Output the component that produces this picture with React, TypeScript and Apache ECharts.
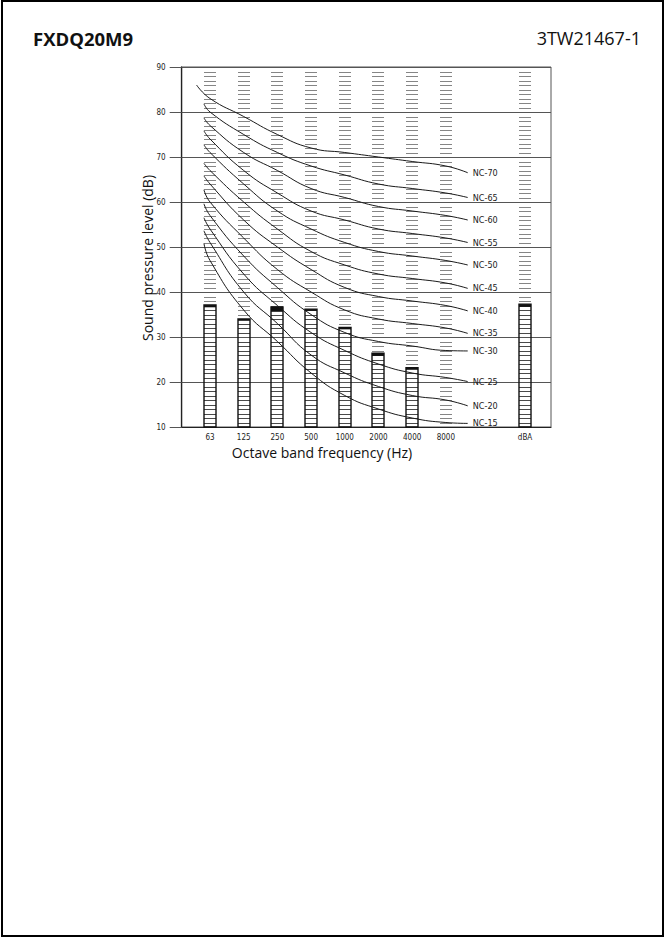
import React, { useEffect, useRef } from "react";
import * as echarts from "echarts";

// ---- data ----
const bandLabels = ["63", "125", "250", "500", "1000", "2000", "4000", "8000", "dBA"];
// measured sound pressure level (top of bar) and lower edge of the black cap
const levelTop = [37.1, 34.0, 36.7, 36.2, 32.1, 26.4, 23.2, null, 37.3];
const levelCapBottom = [36.6, 33.6, 35.6, 35.8, 31.7, 25.8, 22.9, null, 36.7];

const ncNames = ["NC-70", "NC-65", "NC-60", "NC-55", "NC-50", "NC-45", "NC-40", "NC-35", "NC-30", "NC-25", "NC-20", "NC-15"];
// NC curve values at 63..8000 Hz
const nc70 = [83, 79, 75, 72, 71, 70, 69, 68];
const nc65 = [80, 75, 71, 68, 66, 64, 63, 62];
const nc60 = [77, 71, 67, 63, 61, 59, 58, 57];
const nc55 = [74, 67, 62, 58, 56, 54, 53, 52];
const nc50 = [71, 64, 58, 54, 51, 49, 48, 47];
const nc45 = [67, 60, 54, 49, 46, 44, 43, 42];
const nc40 = [64, 56, 50, 45, 41, 39, 38, 37];
const nc35 = [60, 52, 45, 40, 36, 34, 33, 32];
const nc30 = [57, 48, 41, 35, 31, 29, 28, 27];
const nc25 = [54, 44, 37, 31, 27, 24, 22, 21];
const nc20 = [51, 40, 33, 26, 22, 19, 17, 16];
const nc15 = [47, 36, 29, 22, 17, 14, 12, 11];
// drawn extension of each curve left of 63 Hz and right of 8000 Hz
const ncStartLevel = [86, 81.8, 78.7, 75.8, 72.7, 68.6, 65.8, 62.7, 59.6, 56.5, 53.6, 50.8];
const ncEndLevel = [66.5, 61, 56, 51, 46, 40.8, 35.8, 30.8, 26.9, 20.1, 14.7, 10.8];
const yTicks = [10, 20, 30, 40, 50, 60, 70, 80, 90];

const ncTables = [nc70, nc65, nc60, nc55, nc50, nc45, nc40, nc35, nc30, nc25, nc20, nc15];

// ---- layout helpers (axis positions of the bands, 63 Hz = 0, one octave = 1) ----
const DBA_POS = 9.35;
const bandPos = bandLabels.map((_, i) => (i < 8 ? i : DBA_POS));
const CURVE_START = -0.18;
const CURVE_START_TOP = -0.4;
const CURVE_END = 7.65;

const condensed = "'Liberation Sans Narrow', 'DejaVu Sans Condensed', 'Roboto Condensed', 'Arial Narrow', sans-serif";

export default function App() {
  const ref = useRef<HTMLDivElement>(null);

  useEffect(() => {
    document.body.style.margin = "0";
    if (!ref.current) return;
    const chart = echarts.init(ref.current, undefined, { renderer: "svg" });

    const ncSeries = ncNames.map((name, k) => {
      const vals = ncTables[k];
      const data: number[][] = [];
      data.push([k === 0 ? CURVE_START_TOP : CURVE_START, ncStartLevel[k]]);
      vals.forEach((v, i) => data.push([i, v]));
      data.push([CURVE_END, ncEndLevel[k]]);
      return {
        type: "line",
        name,
        data,
        smooth: 0.5,
        symbol: "none",
        lineStyle: { color: "#1a1a1a", width: 1 },
        endLabel: {
          show: true,
          formatter: name,
          distance: 5,
          fontFamily: condensed,
          fontSize: 9,
          color: "#222",
        },
        z: 3,
        silent: true,
      };
    });

    const barData = bandLabels.map((_, i) => [
      bandPos[i],
      levelTop[i] == null ? 0 : (levelTop[i] as number),
      levelCapBottom[i] == null ? 0 : (levelCapBottom[i] as number),
    ]);

    const HALF = 6;
    const renderItem = (params: any, api: any) => {
      const x = api.value(0);
      const top = api.value(1);
      const capBot = api.value(2);
      const hasBar = top > 10;
      const cx = Math.round(api.coord([x, 10])[0]);
      const children: any[] = [];
      for (let d = 11; d < 90; d++) {
        if (d % 10 === 0) continue;
        const y = Math.round(api.coord([x, d])[1]) + 0.5;
        const inside = hasBar && d < top;
        children.push({
          type: "line",
          shape: { x1: cx - HALF, y1: y, x2: cx + HALF, y2: y },
          style: { stroke: inside ? "#4a4a4a" : "#858585", lineWidth: 1 },
        });
      }
      if (hasBar) {
        const yTop = api.coord([x, top])[1];
        const yBase = api.coord([x, 10])[1];
        const yCap = api.coord([x, capBot])[1];
        children.push({
          type: "rect",
          shape: { x: cx - HALF, y: yTop, width: HALF * 2, height: yBase - yTop },
          style: { fill: "none", stroke: "#111", lineWidth: 1.4 },
        });
        children.push({
          type: "rect",
          shape: { x: cx - HALF, y: yTop, width: HALF * 2, height: Math.max(1.5, yCap - yTop) },
          style: { fill: "#111", stroke: "none" },
        });
      }
      return { type: "group", children };
    };

    chart.setOption({
      animation: false,
      backgroundColor: "#fff",
      grid: {
        left: 181.7,
        right: 115,
        top: 67,
        bottom: 511,
        show: true,
        borderColor: "#555",
        borderWidth: 1,
      },
      xAxis: {
        type: "value",
        min: -0.84,
        max: 10.12,
        splitLine: { show: false },
        axisLine: { show: true, onZero: false, lineStyle: { color: "#222", width: 1.2 } },
        axisTick: { show: false },
        axisLabel: {
          customValues: bandPos,
          formatter: (v: number) => {
            const i = bandPos.findIndex((p) => Math.abs(p - v) < 1e-6);
            return i >= 0 ? bandLabels[i] : "";
          },
          fontFamily: condensed,
          fontSize: 8,
          color: "#222",
          margin: 6,
        },
      },
      yAxis: {
        type: "value",
        min: 10,
        max: 90,
        interval: 10,
        axisLine: { show: true, onZero: false, lineStyle: { color: "#222", width: 1.3 } },
        axisTick: { show: true, length: 12, lineStyle: { color: "#555" } },
        splitLine: { show: true, lineStyle: { color: "#555", width: 1 } },
        axisLabel: {
          formatter: (v: number) => (yTicks.includes(v) ? String(v) : ""),
          fontFamily: condensed,
          fontSize: 8,
          color: "#222",
          margin: 16,
        },
      },
      graphic: [
        {
          type: "rect",
          shape: { x: 2, y: 1, width: 661, height: 935 },
          style: { fill: "none", stroke: "#000", lineWidth: 2 },
          z: 10,
        },
        {
          type: "text",
          x: 33,
          y: 38,
          style: {
            text: "FXDQ20M9",
            font: "bold 18.5px 'Open Sans', 'Noto Sans', sans-serif",
            fill: "#111",
            textVerticalAlign: "middle",
          },
        },
        {
          type: "text",
          x: 641,
          y: 38,
          style: {
            text: "3TW21467-1",
            font: "18px 'Open Sans', 'Noto Sans', sans-serif",
            fill: "#111",
            textAlign: "right",
            textVerticalAlign: "middle",
          },
        },
        {
          type: "text",
          x: 147,
          y: 258,
          rotation: Math.PI / 2,
          style: {
            text: "Sound pressure level (dB)",
            font: "14px 'Open Sans', 'Noto Sans', sans-serif",
            fill: "#111",
            textAlign: "center",
            textVerticalAlign: "middle",
          },
        },
        {
          type: "text",
          x: 322,
          y: 452,
          style: {
            text: "Octave band frequency (Hz)",
            font: "14px 'Open Sans', 'Noto Sans', sans-serif",
            fill: "#111",
            textAlign: "center",
            textVerticalAlign: "middle",
          },
        },
      ],
      series: [
        {
          type: "custom",
          name: "levels",
          data: barData,
          renderItem,
          z: 2,
          silent: true,
        },
        ...ncSeries,
      ],
    } as any);

    return () => chart.dispose();
  }, []);

  return <div ref={ref} style={{ width: 666, height: 938 }} />;
}
